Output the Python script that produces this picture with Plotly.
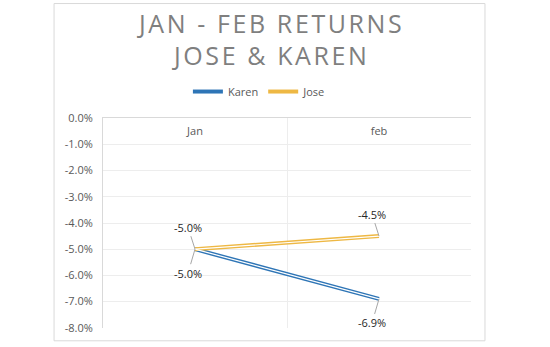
import plotly.graph_objects as go

months = ["Jan", "feb"]
karen = [-0.050, -0.069]
jose = [-0.050, -0.045]
y_ticks = [0, -0.01, -0.02, -0.03, -0.04, -0.05, -0.06, -0.07, -0.08]
y_tick_text = ["0.0%", "-1.0%", "-2.0%", "-3.0%", "-4.0%", "-5.0%", "-6.0%", "-7.0%", "-8.0%"]

KAREN_C = "#2E75B6"
JOSE_C = "#EEB844"

fig = go.Figure()
for name, vals, col in [("Karen", karen, KAREN_C), ("Jose", jose, JOSE_C)]:
    fig.add_trace(go.Scatter(x=months, y=vals, mode="lines", name=name,
                             line=dict(color=col, width=4), legendgroup=name))
    fig.add_trace(go.Scatter(x=months, y=vals, mode="lines", name=name, xaxis="x2",
                             line=dict(color="white", width=1.2), showlegend=False,
                             legendgroup=name, hoverinfo="skip"))

# data labels with leader lines
label_font = dict(family="Open Sans", size=11, color="#262626")
for i, m in enumerate(months):
    ann_specs = [(jose[i], -22), (karen[i], 24)]
    for v, ay in ann_specs:
        fig.add_annotation(x=m, y=v, text=f"{v*100:.1f}%", showarrow=True,
                           arrowhead=0, arrowwidth=1, arrowcolor="#A6A6A6",
                           ax=-7, ay=ay, standoff=0, font=label_font)

fig.add_shape(type="rect", xref="paper", yref="paper",
              x0=-0.133, x1=1.038, y0=-0.061, y1=1.545,
              line=dict(color="#D9D9D9", width=1), fillcolor="rgba(0,0,0,0)", layer="below")

tick_font = dict(family="Open Sans", size=11, color="#595959")

fig.update_layout(
    width=550, height=347,
    margin=dict(l=103, r=79, t=118, b=15),
    paper_bgcolor="white", plot_bgcolor="white",
    title=dict(text="JAN - FEB RETURNS<br>JOSE & KAREN",
               font=dict(family="Open Sans", size=25, color="#7F7F7F", weight=400),
               x=0.494, xanchor="center", y=0.905, yanchor="middle"),
    legend=dict(orientation="h", x=0.425, xanchor="center", y=1.126, yanchor="middle",
                font=dict(family="Open Sans", size=11, color="#595959"),
                itemwidth=30, tracegroupgap=0, bgcolor="rgba(0,0,0,0)"),
    showlegend=True,
    xaxis=dict(type="category", side="top", range=[-0.5, 1.5], tickson="boundaries",
               showgrid=True, gridcolor="#EDEDED", showline=True, linecolor="#D9D9D9",
               ticks="", showticklabels=False, zeroline=False),
    xaxis2=dict(type="category", overlaying="x", anchor="free", side="bottom",
                position=0.978, range=[-0.5, 1.5], showgrid=False, showline=False,
                ticks="", zeroline=False, tickfont=tick_font),
    yaxis=dict(range=[-0.0801, 0.0001], tickvals=y_ticks, ticktext=y_tick_text,
               showgrid=True, gridcolor="#EDEDED", showline=True, linecolor="#D9D9D9",
               zeroline=False, ticks="", ticklabelstandoff=7, tickfont=tick_font),
)

post = """
function spaceTitle(){
  var gd = document.querySelector('.js-plotly-plot');
  gd.querySelectorAll('.gtitle').forEach(function(e){ e.style.letterSpacing = '2.6px'; });
}
spaceTitle();
var gd0 = document.querySelector('.js-plotly-plot');
if (gd0 && gd0.on) { gd0.on('plotly_afterplot', spaceTitle); }
"""

fig.write_html("out.html", post_script=post)
